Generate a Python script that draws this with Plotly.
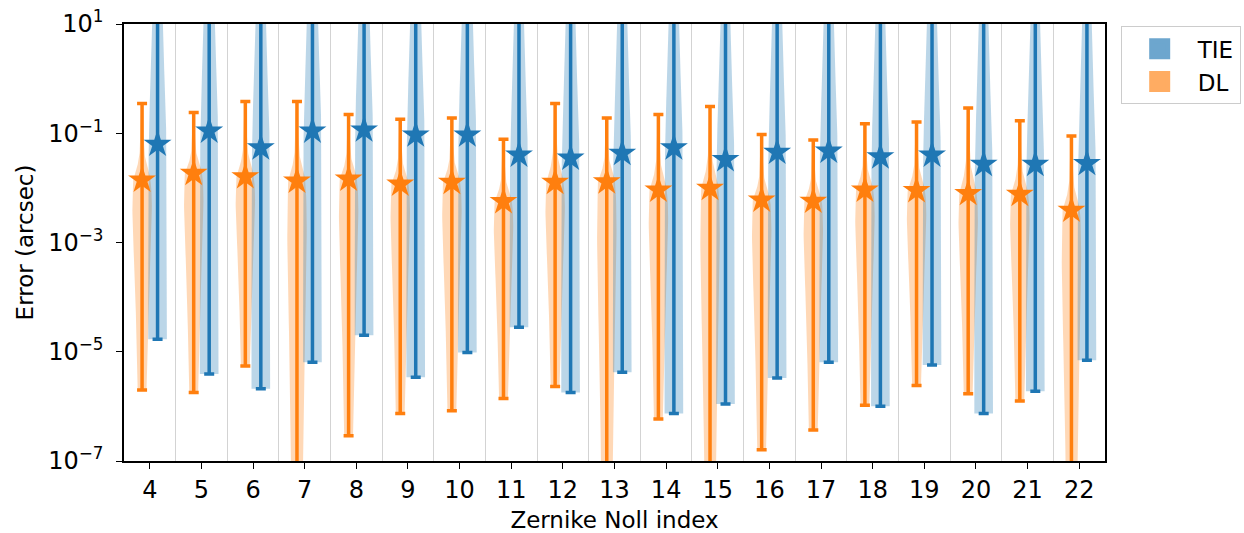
import numpy as np
import plotly.graph_objects as go

# Zernike Noll indices on the x axis
noll = list(range(4, 23))

# DL (deep learning) error statistics, arcsec
dl_median = [0.0139, 0.0184, 0.0160, 0.0133, 0.0145, 0.0117, 0.0126, 0.0056, 0.0126, 0.0129,
             0.0091, 0.0098, 0.0060, 0.0057, 0.0091, 0.0089, 0.0079, 0.0076, 0.0039]
dl_min = [2.0e-6, 1.8e-6, 5.5e-6, 1.0e-9, 2.9e-7, 7.4e-7, 8.3e-7, 1.4e-6, 2.3e-6, 1.0e-9,
          5.9e-7, 1.0e-9, 1.6e-7, 3.7e-7, 1.05e-6, 2.4e-6, 1.7e-6, 1.25e-6, 1.0e-9]
dl_max = [0.35, 0.24, 0.38, 0.38, 0.22, 0.18, 0.19, 0.078, 0.35, 0.19,
          0.22, 0.31, 0.095, 0.075, 0.15, 0.16, 0.29, 0.17, 0.089]

# TIE (transport of intensity) error statistics, arcsec
tie_median = [0.063, 0.110, 0.054, 0.110, 0.115, 0.093, 0.093, 0.040, 0.035, 0.043,
              0.054, 0.033, 0.045, 0.047, 0.037, 0.040, 0.027, 0.027, 0.028]
tie_min = [1.7e-5, 3.9e-6, 2.1e-6, 6.4e-6, 2.0e-5, 3.4e-6, 9.7e-6, 2.8e-5, 1.8e-6, 4.2e-6,
           7.4e-7, 1.1e-6, 3.3e-6, 6.4e-6, 1.0e-6, 5.7e-6, 7.4e-7, 1.9e-6, 7.0e-6]
tie_max = [60, 80, 50, 90, 70, 60, 80, 50, 60, 70,
           60, 50, 70, 60, 50, 60, 70, 50, 60]

# y-axis tick labels
ytick_vals = [1e1, 1e-1, 1e-3, 1e-5, 1e-7]
ytick_text = ["10<sup>1</sup>", "10<sup>−1</sup>", "10<sup>−3</sup>",
              "10<sup>−5</sup>", "10<sup>−7</sup>"]

BLUE = "#1f77b4"
ORANGE = "#ff7f0e"
OFFSET = 0.15      # horizontal shift of each method from the category centre
HALF = 0.19        # maximum violin half-width in x units

# relative violin width profiles (fraction of HALF)
DL_UP_U = [0, 0.1, 0.2, 0.3, 0.45, 0.7, 1.0]
DL_UP_W = [0.9, 0.7, 0.45, 0.3, 0.18, 0.12, 0.08]
DL_DN_U = [0, 0.1, 0.25, 0.4, 0.6, 0.8, 1.0]
DL_DN_W = [0.9, 1.0, 0.95, 0.8, 0.65, 0.55, 0.45]
TIE_UP_D = [0, 0.5, 1.0, 2.0, 3.5]       # decades above the median
TIE_UP_W = [0.9, 0.85, 0.75, 0.55, 0.35]
TIE_DN_U = [0, 0.3, 1.0]
TIE_DN_W = [0.9, 0.95, 0.95]


def violin_path(pos, med, lo, hi, kind):
    lm, ll, lh = np.log10(med), np.log10(lo), np.log10(hi)
    up = np.linspace(lm, lh, 50)
    dn = np.linspace(lm, ll, 50)
    if kind == "dl":
        w_up = np.interp((up - lm) / (lh - lm), DL_UP_U, DL_UP_W)
        w_dn = np.interp((lm - dn) / (lm - ll), DL_DN_U, DL_DN_W)
    else:
        w_up = np.interp(up - lm, TIE_UP_D, TIE_UP_W)
        w_dn = np.interp((lm - dn) / (lm - ll), TIE_DN_U, TIE_DN_W)
    logs = np.concatenate([dn[::-1], up[1:]])
    widths = np.concatenate([w_dn[::-1], w_up[1:]]) * HALF
    xs = np.concatenate([pos + widths, (pos - widths)[::-1], [pos + widths[0]]])
    ys = 10 ** np.concatenate([logs, logs[::-1], [logs[0]]])
    return list(xs) + [None], list(ys) + [None]


def bodies(med, lo, hi, shift, kind):
    X, Y = [], []
    for n, m, a, b in zip(noll, med, lo, hi):
        x, y = violin_path(n + shift, m, a, b, kind)
        X += x
        Y += y
    return X, Y


fig = go.Figure()

# violin bodies
for med, lo, hi, shift, kind, col in [
    (dl_median, dl_min, dl_max, -OFFSET, "dl", "rgba(255,127,14,0.3)"),
    (tie_median, tie_min, tie_max, OFFSET, "tie", "rgba(31,119,180,0.3)"),
]:
    X, Y = bodies(med, lo, hi, shift, kind)
    fig.add_trace(go.Scatter(x=X, y=Y, mode="lines", fill="toself", fillcolor=col,
                             line=dict(width=0), hoverinfo="skip", showlegend=False))

# min-max range bars with median stars
for med, lo, hi, shift, col in [
    (dl_median, dl_min, dl_max, -OFFSET, ORANGE),
    (tie_median, tie_min, tie_max, OFFSET, BLUE),
]:
    fig.add_trace(go.Scatter(
        x=[n + shift for n in noll], y=med, mode="markers",
        marker=dict(symbol="star", size=21, color=col, line=dict(width=0)),
        error_y=dict(type="data", symmetric=False,
                     array=[h - m for h, m in zip(hi, med)],
                     arrayminus=[m - l for m, l in zip(med, lo)],
                     color=col, thickness=3.5, width=5),
        showlegend=False,
    ))

# legend entries
for name, col in [("TIE", "#6da6ce"), ("DL", "#ffac62")]:
    fig.add_trace(go.Scatter(x=[None], y=[None], mode="markers", name=name,
                             legendgroup=name,
                             marker=dict(symbol="square", size=16, color=col,
                                         line=dict(width=5, color=col))))

mids = [n + 0.5 for n in noll[:-1]]

fig.update_layout(
    width=1244, height=533,
    margin=dict(l=124, r=139, t=24, b=72, autoexpand=False),
    paper_bgcolor="white", plot_bgcolor="white",
    font=dict(family="DejaVu Sans", size=24, color="black"),
    legend=dict(x=1.016, y=0.995, xanchor="left", yanchor="top",
                bordercolor="#cccccc", borderwidth=1, bgcolor="white",
                font=dict(size=23), itemwidth=66, tracegroupgap=0),
    xaxis=dict(
        range=[3.5, 22.5], tickmode="array", tickvals=noll,
        ticktext=[str(n) for n in noll], tickfont=dict(size=24),
        ticks="outside", ticklen=6, tickwidth=1.3, tickcolor="black",
        showline=True, linecolor="black", linewidth=1.5, mirror=True,
        showgrid=False, zeroline=False, automargin=False,
        minor=dict(tickmode="array", tickvals=mids, showgrid=True,
                   gridcolor="#d3d3d3", gridwidth=1.3, ticks=""),
        title=dict(text="Zernike Noll index", font=dict(size=23), standoff=12),
    ),
    yaxis=dict(
        type="log", range=[-7, 1], tickmode="array",
        tickvals=ytick_vals, ticktext=ytick_text, tickfont=dict(size=24),
        ticks="outside", ticklen=6, tickwidth=1.3, tickcolor="black",
        ticklabelstandoff=8,
        showline=True, linecolor="black", linewidth=1.5, mirror=True,
        showgrid=False, zeroline=False, automargin=False,
        title=dict(text="Error (arcsec)", font=dict(size=23), standoff=8),
    ),
)

fig.write_html("out.html")
